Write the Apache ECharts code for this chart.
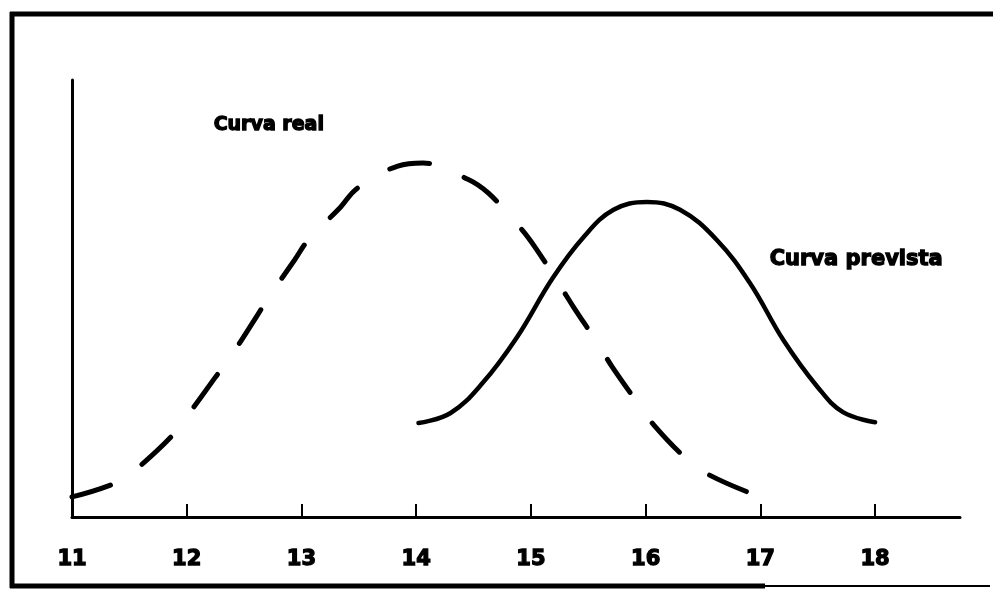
<!DOCTYPE html>
<html>
<head>
<meta charset="utf-8">
<script src="https://cdn.jsdelivr.net/npm/echarts@6/dist/echarts.min.js"></script>
<style>
  html, body { margin: 0; padding: 0; background: #fff; }
  #chart { width: 993px; height: 592px; }
</style>
</head>
<body>
<div id="chart"></div>
<script>
// tick labels on the x axis
const xTicks = [11, 12, 13, 14, 15, 16, 17, 18];

// "Curva real" (dashed), y in % of axis height
const realX = [11.0, 11.4, 11.58, 11.88, 12.01, 12.25, 12.38, 12.6, 12.71, 12.94, 13.06, 13.34, 13.49, 13.84, 14.06,
  14.45, 14.63, 14.91, 15.04, 15.25, 15.37, 15.59, 15.71, 15.93, 16.07, 16.34, 16.52, 16.89];
const realY = [4.6, 8.0, 11.4, 18.8, 23.3, 32.0, 36.6, 45.5, 50.1, 58.8, 63.4, 70.9, 75.3, 80.3, 81.0,
  77.3, 74.1, 66.1, 61.6, 53.1, 48.1, 39.4, 34.3, 26.1, 21.1, 13.7, 10.1, 5.7];

// "Curva prevista" (solid)
const prevX = [14.02, 14.3, 14.58, 14.88, 15.19, 15.46, 15.72, 16.01, 16.3, 16.62, 16.91, 17.2, 17.5, 17.72, 18.0];
const prevY = [21.5, 23.8, 30.7, 41.2, 54.7, 64.1, 70.3, 72.1, 70.3, 63.4, 53.5, 40.5, 29.7, 24.0, 21.7];

const pairs = (xs, ys) => xs.map((x, i) => [x, ys[i]]);

// heavy "black" look of the scanned lettering
const heavy = { fill: '#000', stroke: '#000', lineWidth: 1.3 };

let chart = echarts.init(document.getElementById('chart'));
chart.setOption({
  animation: false,
  backgroundColor: '#fff',
  grid: { left: 72, right: 33, top: 80, bottom: 75 },
  xAxis: {
    type: 'value',
    min: 11,
    max: 18.74,
    interval: 1,
    splitLine: { show: false },
    axisLine: { lineStyle: { color: '#000', width: 3 } },
    axisTick: {
      inside: true, length: 13,
      customValues: xTicks.slice(1),
      lineStyle: { color: '#000', width: 2 }
    },
    axisLabel: {
      customValues: xTicks,
      margin: 32,
      color: '#000',
      fontFamily: 'DejaVu Sans',
      fontWeight: 'bold',
      fontSize: 21,
      textBorderColor: '#000',
      textBorderWidth: 1.3
    }
  },
  yAxis: {
    type: 'value',
    min: 0,
    max: 100,
    splitLine: { show: false },
    axisLine: { show: true, lineStyle: { color: '#000', width: 3 } },
    axisTick: { show: false },
    axisLabel: { show: false }
  },
  series: [
    {
      name: 'Curva real',
      type: 'line',
      data: pairs(realX, realY),
      smooth: 0.4,
      showSymbol: false,
      lineStyle: { color: '#000', width: 5, type: [40, 38], cap: 'round' }
    },
    {
      name: 'Curva prevista',
      type: 'line',
      data: pairs(prevX, prevY),
      smooth: 0.4,
      showSymbol: false,
      lineStyle: { color: '#000', width: 4.5, cap: 'round' }
    }
  ],
  graphic: [
    // frame of the scanned figure
    { type: 'line', shape: { x1: 10, y1: 14, x2: 993, y2: 14 }, style: { stroke: '#000', lineWidth: 5 } },
    { type: 'line', shape: { x1: 12, y1: 12, x2: 12, y2: 588 }, style: { stroke: '#000', lineWidth: 5 } },
    { type: 'line', shape: { x1: 10, y1: 586, x2: 765, y2: 586 }, style: { stroke: '#000', lineWidth: 5 } },
    { type: 'line', shape: { x1: 765, y1: 586, x2: 990, y2: 586 }, style: { stroke: '#000', lineWidth: 2 } },
    {
      type: 'text', left: 213, top: 115,
      style: Object.assign({ text: 'Curva real', font: 'bold 19px "DejaVu Sans"' }, heavy)
    },
    {
      type: 'text', left: 769, top: 248,
      style: Object.assign({ text: 'Curva prevista', font: 'bold 21px "DejaVu Sans"' }, heavy)
    }
  ]
});
</script>
</body>
</html>
